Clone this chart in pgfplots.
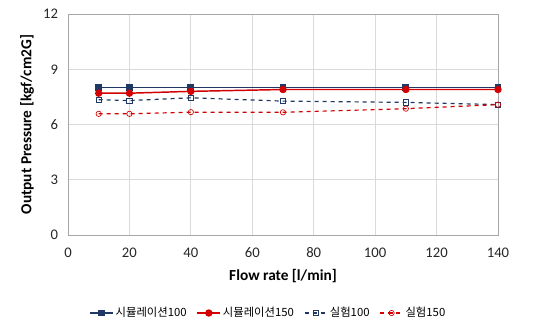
\documentclass[border=0pt]{standalone}
\usepackage{fontspec}
\setmainfont{Carlito}
\newfontfamily\kr{Noto Sans CJK KR}
\usepackage{pgfplots}
\pgfplotsset{compat=1.18}
\definecolor{navy}{RGB}{31,56,100}
\definecolor{myred}{RGB}{210,0,0}
\definecolor{gridc}{RGB}{217,217,217}
\definecolor{framec}{RGB}{166,166,166}
\begin{document}
\begin{tikzpicture}
\useasboundingbox (-51pt,-73.5pt) rectangle (351.75pt,176.25pt);
\begin{axis}[
  scale only axis,
  width=322.5pt, height=165.75pt,
  xmin=0, xmax=140, ymin=0, ymax=12,
  xtick={0,20,...,140}, ytick={0,3,6,9,12},
  grid=major,
  major grid style={gridc, line width=0.6pt},
  axis line style={framec, line width=0.6pt},
  tick style={draw=none},
  tick label style={font=\fontsize{11}{12}\selectfont, text=black!85},
  /pgf/number format/assume math mode=true,
  xticklabel style={yshift=-6pt},
  yticklabel style={xshift=-4pt},
  xlabel={\textbf{Flow rate [l/min]}},
  ylabel={\textbf{Output Pressure [kgf/cm2G]}},
  label style={font=\fontsize{11.5}{13}\selectfont},
  xlabel style={yshift=-2pt},
  ylabel style={yshift=0pt},
  legend columns=4,
  legend style={draw=none, at={(0.466,-0.353)}, anchor=center,
    font=\fontsize{8.5}{10}\selectfont,
    nodes={inner xsep=1.5pt},
    /tikz/every even column/.append style={column sep=6pt}},
  legend cell align=left,
]
\addplot[navy, line width=1.1pt, mark=square*, mark size=2pt] coordinates {
 (10,8.0) (20,8.0) (40,8.0) (70,8.0) (110,8.0) (140,8.0)};
\addlegendentry{\kr 시뮬레이션100}
\addplot[myred, line width=1.1pt, mark=*, mark size=2.2pt] coordinates {
 (10,7.7) (20,7.7) (40,7.8) (70,7.9) (110,7.9) (140,7.9)};
\addlegendentry{\kr 시뮬레이션150}
\addplot[navy, line width=0.9pt, dashed, mark=square, mark size=2pt, mark options={solid, fill=white, line width=0.5pt}] coordinates {
 (10,7.35) (20,7.3) (40,7.45) (70,7.27) (110,7.2) (140,7.08)};
\addlegendentry{\kr 실험100}
\addplot[myred, line width=0.9pt, dashed, mark=o, mark size=2pt, mark options={solid, fill=white, line width=0.5pt}] coordinates {
 (10,6.58) (20,6.58) (40,6.67) (70,6.66) (110,6.86) (140,7.08)};
\addlegendentry{\kr 실험150}
\end{axis}
\end{tikzpicture}
\end{document}
